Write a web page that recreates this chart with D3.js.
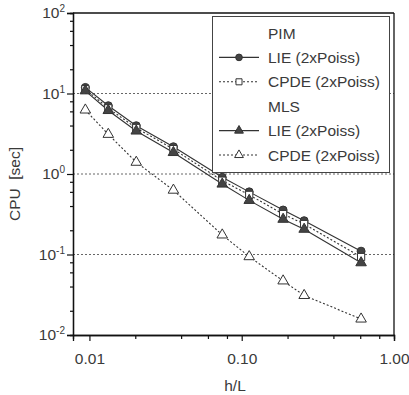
<!DOCTYPE html>
<html>
<head>
<meta charset="utf-8">
<script src="https://cdn.jsdelivr.net/npm/d3@7"></script>
<style>
  body { margin: 0; background: #fff; }
  svg { display: block; font-family: "Liberation Sans", Arial, sans-serif; }
</style>
</head>
<body>
<div id="chart"></div>
<script>
// values
const hL = [0.0094, 0.0133, 0.0203, 0.0356, 0.0745, 0.112, 0.187, 0.257, 0.608];
const pimLIE = [11.9, 7.05, 3.98, 2.18, 0.91, 0.60, 0.357, 0.263, 0.110];
const pimCPDE = [11.3, 6.55, 3.73, 2.04, 0.826, 0.55, 0.318, 0.239, 0.093];
const mlsLIE = [10.8, 6.15, 3.42, 1.85, 0.75, 0.47, 0.274, 0.206, 0.079];
const mlsCPDE = [6.24, 3.11, 1.40, 0.63, 0.175, 0.094, 0.047, 0.031, 0.0158];

const xMajor = [0.01, 0.1, 1];
const xMajorLabels = ['0.01', '0.10', '1.00'];
const xMinor = [0.02, 0.04, 0.06, 0.08, 0.2, 0.4, 0.6, 0.8];
const yMajorExp = [-2, -1, 0, 1, 2];
const yGridExp = [-1, 0, 1];

const legendRows = [
  { label: 'PIM', header: true },
  { label: 'LIE (2xPoiss)', series: 'pimLIE' },
  { label: 'CPDE (2xPoiss)', series: 'pimCPDE' },
  { label: 'MLS', header: true },
  { label: 'LIE (2xPoiss)', series: 'mlsLIE' },
  { label: 'CPDE (2xPoiss)', series: 'mlsCPDE' }
];

const ink = '#333';
const textInk = '#3a3a3a';
const styles = {
  pimLIE: { values: pimLIE, dash: null, symbol: d3.symbolCircle, size: 50, fill: '#444' },
  pimCPDE: { values: pimCPDE, dash: '2,2', symbol: d3.symbolSquare, size: 52, fill: '#fff' },
  mlsLIE: { values: mlsLIE, dash: null, symbol: d3.symbolTriangle, size: 48, fill: '#444' },
  mlsCPDE: { values: mlsCPDE, dash: '2,2', symbol: d3.symbolTriangle, size: 48, fill: '#fff' }
};

const W = 409, H = 395;
const plot = { left: 73, right: 394, top: 13, bottom: 335 };

const svg = d3.select('#chart').append('svg')
  .attr('width', W)
  .attr('height', H);

const x = d3.scaleLog().domain([0.0078, 1]).range([plot.left, plot.right]);
const y = d3.scaleLog().domain([0.01, 100]).range([plot.bottom, plot.top]);

// dotted grid lines
svg.append('g').selectAll('line')
  .data(yGridExp)
  .enter().append('line')
  .attr('x1', plot.left).attr('x2', plot.right)
  .attr('y1', d => y(Math.pow(10, d))).attr('y2', d => y(Math.pow(10, d)))
  .attr('stroke', '#666')
  .attr('stroke-width', 1)
  .attr('stroke-dasharray', '2,2');

const line = d3.line()
  .x(d => x(d[0]))
  .y(d => y(d[1]));

const marker = (st) => d3.symbol().type(st.symbol).size(st.size);

Object.keys(styles).forEach(key => {
  const st = styles[key];
  const pts = hL.map((h, i) => [h, st.values[i]]);
  svg.append('path')
    .datum(pts)
    .attr('d', line)
    .attr('fill', 'none')
    .attr('stroke', ink)
    .attr('stroke-width', 1.1)
    .attr('stroke-dasharray', st.dash);
});

Object.keys(styles).forEach(key => {
  const st = styles[key];
  const pts = hL.map((h, i) => [h, st.values[i]]);
  svg.append('g').selectAll('path')
    .data(pts)
    .enter().append('path')
    .attr('transform', d => `translate(${x(d[0])},${y(d[1])})`)
    .attr('d', marker(st))
    .attr('fill', st.fill)
    .attr('stroke', ink)
    .attr('stroke-width', 1);
});

// legend
const lg = { x: 212.5, y: 16.5, w: 177, h: 156, row0: 33, rowH: 24.4 };
svg.append('rect')
  .attr('x', lg.x).attr('y', lg.y)
  .attr('width', lg.w).attr('height', lg.h)
  .attr('fill', '#fff')
  .attr('stroke', '#444')
  .attr('stroke-width', 1);

legendRows.forEach((r, i) => {
  const cy = lg.row0 + i * lg.rowH;
  svg.append('text')
    .attr('x', 268)
    .attr('y', cy + 5.5)
    .attr('font-size', 15.5)
    .attr('fill', textInk)
    .text(r.label);
  if (r.header) return;
  const st = styles[r.series];
  svg.append('line')
    .attr('x1', 219).attr('x2', 259)
    .attr('y1', cy).attr('y2', cy)
    .attr('stroke', ink)
    .attr('stroke-width', 1.1)
    .attr('stroke-dasharray', st.dash);
  svg.append('path')
    .attr('transform', `translate(239,${cy})`)
    .attr('d', d3.symbol().type(st.symbol).size(st.size * 0.7))
    .attr('fill', st.fill)
    .attr('stroke', ink)
    .attr('stroke-width', 1);
});

// frame
svg.append('line')
  .attr('x1', plot.left).attr('x2', plot.right)
  .attr('y1', plot.top).attr('y2', plot.top)
  .attr('stroke', '#111').attr('stroke-width', 1.3);
svg.append('line')
  .attr('x1', plot.right).attr('x2', plot.right)
  .attr('y1', plot.top).attr('y2', plot.bottom)
  .attr('stroke', '#111').attr('stroke-width', 1.3);

// x axis
const xAxisMinor = svg.append('g')
  .attr('transform', `translate(0,${plot.bottom})`)
  .call(d3.axisBottom(x).tickValues(xMinor).tickSize(4).tickFormat(''));
const xAxis = svg.append('g')
  .attr('transform', `translate(0,${plot.bottom})`)
  .call(d3.axisBottom(x).tickValues(xMajor).tickSize(6)
    .tickFormat((d, i) => xMajorLabels[i]).tickPadding(12));
[xAxisMinor, xAxis].forEach(g => {
  g.select('.domain').attr('stroke', '#111').attr('stroke-width', 1.3);
  g.selectAll('.tick line').attr('stroke', '#111').attr('stroke-width', 1.2);
});
xAxis.selectAll('.tick text')
  .attr('font-size', 15.5)
  .attr('font-family', '"Liberation Sans", Arial, sans-serif')
  .attr('fill', textInk);

// y axis
const yMinor = [];
yMajorExp.slice(0, -1).forEach(e => {
  [2, 4, 6, 8].forEach(m => yMinor.push(m * Math.pow(10, e)));
});
const yAxisMinor = svg.append('g')
  .attr('transform', `translate(${plot.left},0)`)
  .call(d3.axisLeft(y).tickValues(yMinor).tickSize(3).tickFormat(''));
const yAxis = svg.append('g')
  .attr('transform', `translate(${plot.left},0)`)
  .call(d3.axisLeft(y).tickValues(yMajorExp.map(e => Math.pow(10, e))).tickSize(6).tickFormat(''));
[yAxisMinor, yAxis].forEach(g => {
  g.select('.domain').attr('stroke', '#111').attr('stroke-width', 1.3);
  g.selectAll('.tick line').attr('stroke', '#111').attr('stroke-width', 1.2);
});

// power-of-ten labels
yMajorExp.forEach(e => {
  const t = svg.append('text')
    .attr('x', 65)
    .attr('y', y(Math.pow(10, e)) + 5)
    .attr('text-anchor', 'end')
    .attr('fill', textInk);
  t.append('tspan').attr('font-size', 15.5).text('10');
  t.append('tspan').attr('font-size', 10).attr('dy', -6).text(e);
});

// axis titles
svg.append('text')
  .attr('x', 235)
  .attr('y', 391)
  .attr('text-anchor', 'middle')
  .attr('font-size', 15.5)
  .attr('fill', textInk)
  .text('h/L');

svg.append('text')
  .attr('transform', 'translate(20,184) rotate(-90)')
  .attr('text-anchor', 'middle')
  .attr('font-size', 15.5)
  .attr('fill', textInk)
  .style('white-space', 'pre')
  .text('CPU  [sec]');
</script>
</body>
</html>
